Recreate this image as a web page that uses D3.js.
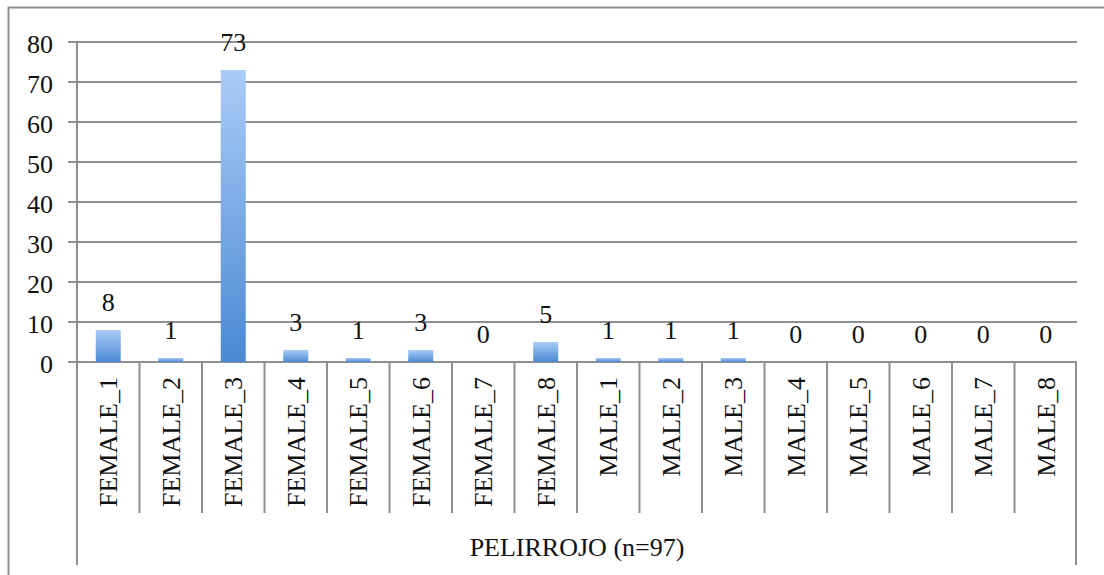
<!DOCTYPE html>
<html>
<head>
<meta charset="utf-8">
<script src="https://cdn.jsdelivr.net/npm/d3@7"></script>
<style>
  body { margin: 0; background: #fff; }
  svg text { font-family: "Liberation Serif", "DejaVu Serif", serif; fill: #111; }
</style>
</head>
<body>
<svg width="1104" height="575"></svg>
<script>
var categories = ["FEMALE_1","FEMALE_2","FEMALE_3","FEMALE_4","FEMALE_5","FEMALE_6","FEMALE_7","FEMALE_8",
                  "MALE_1","MALE_2","MALE_3","MALE_4","MALE_5","MALE_6","MALE_7","MALE_8"];
var counts = [8,1,73,3,1,3,0,5,1,1,1,0,0,0,0,0];
var yTicks = [0,10,20,30,40,50,60,70,80];
var groupLabel = "PELIRROJO (n=97)";

const plotLeft = 77, plotRight = 1077, plotTop = 42, plotBase = 362;
const barW = 25;
const fontSize = 26;
const gridColor = "#8f8f8f";

window.onload = function() {
    var svg = d3.select("svg");

    var defs = svg.append("defs");
    var grad = defs.append("linearGradient")
        .attr("id","barGrad")
        .attr("x1",0).attr("y1",0).attr("x2",0).attr("y2",1);
    grad.append("stop").attr("offset","0%").attr("stop-color","#aacbf7");
    grad.append("stop").attr("offset","100%").attr("stop-color","#4a89d4");

    // outer chart border (top + left)
    svg.append("path")
        .attr("d","M8.5,575 L8.5,7.5 L1104,7.5")
        .attr("fill","none")
        .attr("stroke",gridColor)
        .attr("stroke-width",2);

    var x = d3.scaleBand().domain(categories).range([plotLeft, plotRight]).padding(0);
    var y = d3.scaleLinear().domain([0, 80]).range([plotBase, plotTop]);

    // horizontal gridlines
    svg.selectAll("line.grid")
        .data(yTicks)
        .enter().append("line")
        .attr("class","grid")
        .attr("x1", plotLeft - 9)
        .attr("x2", plotRight)
        .attr("y1", function(d){return y(d);})
        .attr("y2", function(d){return y(d);})
        .attr("stroke", gridColor)
        .attr("stroke-width", 2);

    // y labels
    svg.selectAll("text.ylab")
        .data(yTicks)
        .enter().append("text")
        .attr("class","ylab")
        .attr("x", 53)
        .attr("y", function(d){return y(d) + 10.5;})
        .attr("text-anchor","end")
        .attr("font-size", fontSize)
        .text(function(d){return d;});

    // left axis line extends down to the group label area
    svg.append("line")
        .attr("x1", plotLeft).attr("x2", plotLeft)
        .attr("y1", plotTop).attr("y2", 565)
        .attr("stroke", gridColor).attr("stroke-width", 2);
    svg.append("line")
        .attr("x1", plotRight - 1).attr("x2", plotRight - 1)
        .attr("y1", plotBase).attr("y2", 565)
        .attr("stroke", gridColor).attr("stroke-width", 2);

    // category separators
    svg.selectAll("line.sep")
        .data(categories.slice(1))
        .enter().append("line")
        .attr("class","sep")
        .attr("x1", function(d){return x(d);})
        .attr("x2", function(d){return x(d);})
        .attr("y1", plotBase)
        .attr("y2", 513)
        .attr("stroke", gridColor)
        .attr("stroke-width", 2);

    // bars
    svg.selectAll("rect.bar")
        .data(counts)
        .enter().append("rect")
        .attr("class","bar")
        .attr("x", function(d,i){return x(categories[i]) + (x.bandwidth() - barW)/2;})
        .attr("y", function(d){return y(d);})
        .attr("width", barW)
        .attr("height", function(d){return plotBase - y(d);})
        .attr("fill","url(#barGrad)");

    // value labels
    svg.selectAll("text.val")
        .data(counts)
        .enter().append("text")
        .attr("class","val")
        .attr("x", function(d,i){return x(categories[i]) + x.bandwidth()/2;})
        .attr("y", function(d){return y(d) - 19.5;})
        .attr("text-anchor","middle")
        .attr("font-size", fontSize)
        .text(function(d){return d;});

    // category labels
    svg.selectAll("text.cat")
        .data(categories)
        .enter().append("text")
        .attr("class","cat")
        .attr("transform", function(d){
            return "translate(" + (x(d) + x.bandwidth()/2 + 9) + "," + 377 + ") rotate(-90)";
        })
        .attr("text-anchor","end")
        .attr("font-size", fontSize)
        .text(function(d){return d;});

    // group label
    svg.append("text")
        .attr("x", (plotLeft + plotRight)/2)
        .attr("y", 556)
        .attr("text-anchor","middle")
        .attr("font-size", fontSize)
        .text(groupLabel);
};
</script>
</body>
</html>
